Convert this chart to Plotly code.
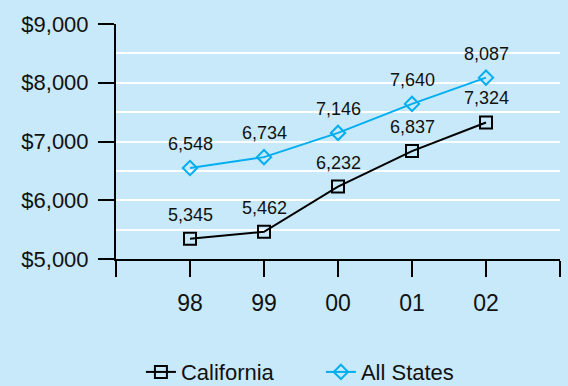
import plotly.graph_objects as go

# Per-pupil spending by school year
years = ["98", "99", "00", "01", "02"]
california = [5345, 5462, 6232, 6837, 7324]
all_states = [6548, 6734, 7146, 7640, 8087]

BG = "#C8E9F9"
BLUE = "#00AEEF"
FONT = "Liberation Sans, Arial, sans-serif"

xpos = list(range(len(years)))

fig = go.Figure()
fig.add_trace(go.Scatter(
    x=xpos, y=california, name="California", mode="lines+markers",
    line=dict(color="black", width=2),
    marker=dict(symbol="square-open", size=12, color="black", line=dict(width=2)),
    cliponaxis=False,
))
fig.add_trace(go.Scatter(
    x=xpos, y=all_states, name="All States", mode="lines+markers",
    line=dict(color=BLUE, width=2),
    marker=dict(symbol="diamond-open", size=11, color=BLUE, line=dict(width=2)),
    cliponaxis=False,
))

# Value labels above each point
for series in (california, all_states):
    for xi, v in zip(xpos, series):
        fig.add_annotation(x=xi, y=v, text=f"{v:,}", showarrow=False,
                           yshift=24, font=dict(size=18, color="#111111", family=FONT))

fig.update_layout(
    width=568, height=386,
    paper_bgcolor=BG, plot_bgcolor=BG,
    margin=dict(l=116, r=8, t=24, b=127),
    font=dict(family=FONT, color="#111111"),
    showlegend=True,
    legend=dict(orientation="h", xref="container", yref="container",
                x=0.565, xanchor="center", y=0.036, yanchor="middle",
                font=dict(size=22), bgcolor="rgba(0,0,0,0)",
                entrywidth=135, traceorder="normal"),
)

fig.update_xaxes(
    range=[-1, 5], tickmode="array", tickvals=list(range(-1, 6)),
    ticktext=[""] + years + [""],
    showline=True, linecolor="black", linewidth=2,
    ticks="outside", ticklen=16, tickwidth=2, tickcolor="black",
    showgrid=False, zeroline=False,
    tickfont=dict(size=23), ticklabelstandoff=6,
)
fig.update_yaxes(
    range=[5000, 9000], tickmode="linear", tick0=5000, dtick=1000,
    tickprefix="$", tickformat=",d",
    showline=True, linecolor="black", linewidth=2,
    ticks="outside", ticklen=16, tickwidth=2, tickcolor="black",
    showgrid=True, gridcolor="white", gridwidth=2,
    minor=dict(dtick=500, showgrid=True, gridcolor="white", gridwidth=2, ticks=""),
    zeroline=False,
    tickfont=dict(size=22), ticklabelstandoff=5,
)

fig.write_html("out.html")
